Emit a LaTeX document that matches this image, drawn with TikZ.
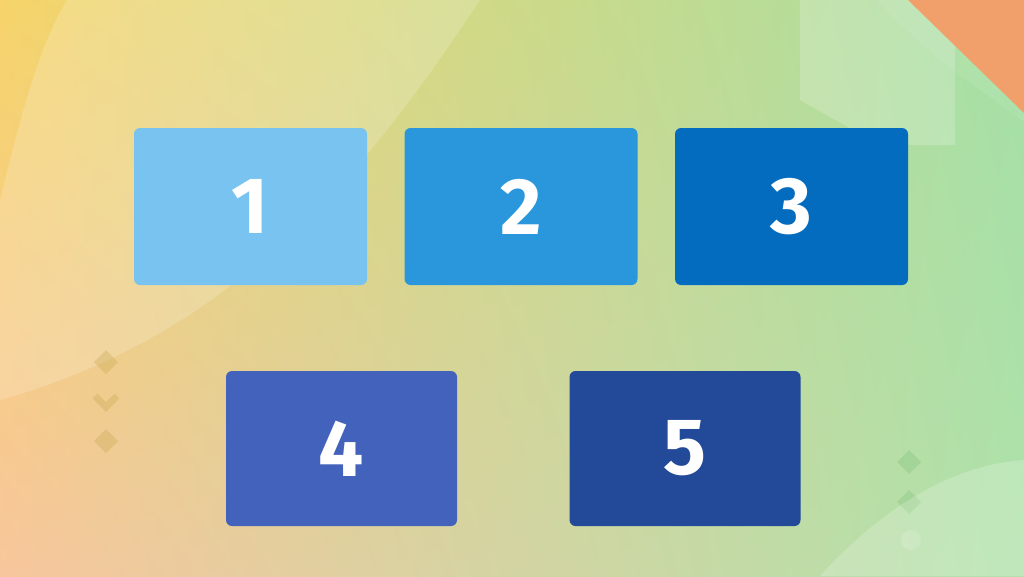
\documentclass[tikz,border=0pt]{standalone}
\usepackage{fontspec}
\usetikzlibrary{shadings}
\newfontfamily\numfont{Fira Sans}
\definecolor{bgyellow}{HTML}{F6D46A}
\definecolor{bgpeach}{HTML}{F8C69C}
\definecolor{bggreen}{HTML}{A4DFA6}
\definecolor{bgmint}{HTML}{AFE2AA}
\definecolor{cornerorange}{HTML}{F2A06B}
\definecolor{markgold}{HTML}{B89A3C}
\definecolor{markgreen}{HTML}{5FA85C}
\definecolor{cardA}{HTML}{78C3F0}
\definecolor{cardB}{HTML}{2A96DB}
\definecolor{cardC}{HTML}{036CBE}
\definecolor{cardD}{HTML}{4262BB}
\definecolor{cardE}{HTML}{234999}
\begin{document}
\begin{tikzpicture}[x=1pt,y=-1pt,line join=round,line cap=round]
    \tikzset{card/.style={rounded corners=6pt,inner sep=0pt,text=white,
            minimum width=233pt,minimum height=157pt,
            font=\numfont\bfseries\fontsize{80}{80}\selectfont},
        mark style/.style={fill=markgold,opacity=0.25}}
    \useasboundingbox (0,0) rectangle (1024,576);
    % background
    \shade[upper left=bgyellow,upper right=bggreen,lower left=bgpeach,lower right=bgmint] (0,0) rectangle (1024,576);
    \fill[white,opacity=0.18] (67,0) -- (480,0) .. controls (380,150) and (250,330) .. (0,400) -- (0,200) .. controls (20,120) and (37,50) .. (67,0) -- cycle;
    \fill[white,opacity=0.2] (800,0) -- (955,0) -- (955,145) -- (880,145) -- (800,100) -- cycle;
    \fill[white,opacity=0.07] (877,0) -- (908,0) -- (1024,113) -- (1024,122) .. controls (990,95) and (930,60) .. (877,0) -- cycle;
    \fill[cornerorange] (908,0) -- (1024,0) -- (1024,113) -- cycle;
    % small marks
    \foreach \y in {362,441}
        \fill[mark style] (106,\y-12) -- (118,\y) -- (106,\y+12) -- (94,\y) -- cycle;
    \draw[markgold,opacity=0.25,line width=7pt,line cap=butt,line join=miter] (95,396) -- (106,407) -- (117,396);
    \foreach \y in {462,502}
        \fill[markgreen,opacity=0.2] (909,\y-12) -- (921,\y) -- (909,\y+12) -- (897,\y) -- cycle;
    \fill[white,opacity=0.2] (820,576) .. controls (880,510) and (950,465) .. (1024,460) -- (1024,576) -- cycle;
    \fill[white,opacity=0.15] (911,540) circle (10pt);
    % cards
    \node[card,fill=cardA] (box1) at (250.5,206.5) {1};
    \node[card,fill=cardB] (box2) at (521,206.5) {2};
    \node[card,fill=cardC] (box3) at (791.5,206.5) {3};
    \node[card,fill=cardD,minimum width=231pt,minimum height=155pt] (box4) at (341.5,448.5) {4};
    \node[card,fill=cardE,minimum width=231pt,minimum height=155pt] (box5) at (685,448.5) {5};
\end{tikzpicture}
\end{document}
